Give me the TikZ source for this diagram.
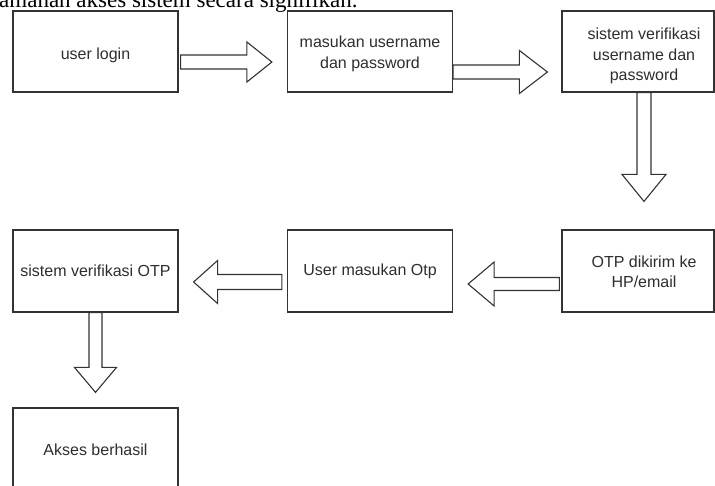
\documentclass[tikz,border=0pt]{standalone}
\usepackage{fontspec}
\setmainfont{Liberation Sans}
\newfontfamily\serifhead{Liberation Serif}
\usetikzlibrary{calc}
\definecolor{lineclr}{HTML}{333333}
\definecolor{txtclr}{HTML}{2E2E2E}
\tikzset{
  boxs/.style={draw=lineclr, line width=1.2pt, fill=white, minimum width=165pt, minimum height=81pt, inner sep=0pt},
  txt/.style={text=txtclr, font=\fontsize{16pt}{20.5pt}\selectfont, align=center, inner sep=0pt},
  barrow/.style={draw=lineclr, line width=1.1pt, fill=white, line join=miter},
}
\begin{document}
\begin{tikzpicture}[x=1pt,y=-1pt]
\useasboundingbox (0,0) rectangle (715,486);
\clip (0,0) rectangle (715,486);
% heading text cut at top
\node[anchor=base west, inner sep=0pt, font=\serifhead\fontsize{23pt}{27pt}\selectfont] (head) at (-1,8) {amanan akses sistem secara signifikan.};
% boxes
\node[boxs] (b1) at (95.5,51.5) {};
\node[txt] (t1) at ($(b1.center)+(0,4)$) {user login};
\node[boxs] (b2) at (370,51.5) {};
\node[txt] (t2) at ($(b2.center)+(0,2.5)$) {masukan username\\dan password};
\node[boxs, minimum width=152pt] (b3) at (638,51.5) {};
\node[txt] (t3) at (644,56) {sistem verifikasi\\username dan\\password};
\node[boxs, minimum height=82pt] (b4) at (95.5,271) {};
\node[txt] (t4) at (b4.center) {sistem verifikasi OTP};
\node[boxs, minimum height=82pt] (b5) at (370,271) {};
\node[txt] (t5) at (b5.center) {User masukan Otp};
\node[boxs, minimum width=152pt, minimum height=82pt] (b6) at (638,271) {};
\node[txt] (t6) at (644,272) {OTP dikirim ke\\HP/email};
\node[boxs] (b7) at (95.5,448.5) {};
\node[txt] (t7) at ($(b7.center)+(0,1)$) {Akses berhasil};
% arrow 1: b1 -> b2
\coordinate (a1s) at ($(b1.east)+(2,10.5)$);
\coordinate (a1t) at ($(b2.west)+(-15,10.5)$);
\draw[barrow] ($(a1s)+(0,-7)$) -- ($(a1t)+(-25,-7)$) -- ($(a1t)+(-25,-20)$) -- (a1t) -- ($(a1t)+(-25,20)$) -- ($(a1t)+(-25,7)$) -- ($(a1s)+(0,7)$) -- cycle;
% arrow 2: b2 -> b3
\coordinate (a2s) at ($(b2.east)+(0,20.5)$);
\coordinate (a2t) at ($(b3.west)+(-14,20.5)$);
\draw[barrow] ($(a2s)+(0,-7)$) -- ($(a2t)+(-28,-7)$) -- ($(a2t)+(-28,-21.5)$) -- (a2t) -- ($(a2t)+(-28,21.5)$) -- ($(a2t)+(-28,7)$) -- ($(a2s)+(0,7)$) -- cycle;
% arrow 3: b3 -> b6
\coordinate (a3s) at ($(b3.south)+(6,0)$);
\coordinate (a3t) at ($(b6.north)+(6,-28)$);
\draw[barrow] ($(a3s)+(-7,0)$) -- ($(a3t)+(-7,-27)$) -- ($(a3t)+(-22,-27)$) -- (a3t) -- ($(a3t)+(22,-27)$) -- ($(a3t)+(7,-27)$) -- ($(a3s)+(7,0)$) -- cycle;
% arrow 4: b6 -> b5
\coordinate (a4s) at ($(b6.west)+(-2,13)$);
\coordinate (a4t) at ($(b5.east)+(15,13)$);
\draw[barrow] ($(a4s)+(0,-6.5)$) -- ($(a4t)+(26,-6.5)$) -- ($(a4t)+(26,-22)$) -- (a4t) -- ($(a4t)+(26,22)$) -- ($(a4t)+(26,6.5)$) -- ($(a4s)+(0,6.5)$) -- cycle;
% arrow 5: b5 -> b4
\coordinate (a5s) at ($(b5.west)+(-5,11)$);
\coordinate (a5t) at ($(b4.east)+(15,11)$);
\draw[barrow] ($(a5s)+(0,-7.5)$) -- ($(a5t)+(24,-7.5)$) -- ($(a5t)+(24,-21.5)$) -- (a5t) -- ($(a5t)+(24,21.5)$) -- ($(a5t)+(24,7.5)$) -- ($(a5s)+(0,7.5)$) -- cycle;
% arrow 6: b4 -> b7
\coordinate (a6s) at (b4.south);
\coordinate (a6t) at ($(b7.north)+(0,-15)$);
\draw[barrow] ($(a6s)+(-6.5,0)$) -- ($(a6t)+(-6.5,-25)$) -- ($(a6t)+(-21,-25)$) -- (a6t) -- ($(a6t)+(21,-25)$) -- ($(a6t)+(6.5,-25)$) -- ($(a6s)+(6.5,0)$) -- cycle;
\end{tikzpicture}
\end{document}
